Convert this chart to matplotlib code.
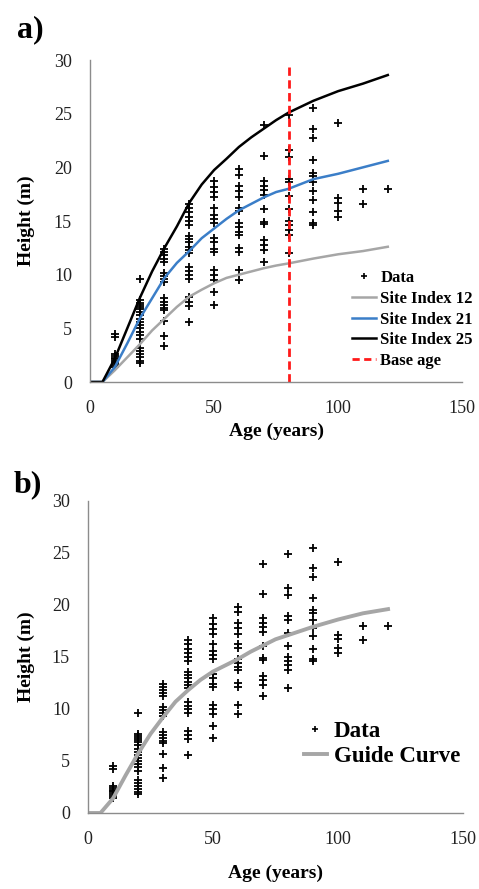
import matplotlib
matplotlib.use("Agg")
import matplotlib.pyplot as plt
from matplotlib.lines import Line2D

# ---- data ----
data_ages = [10]*10 + [20]*21 + [30]*17 + [40]*20 + [50]*17 + [60]*15 + [70]*13 + [80]*12 + [90]*12 + [100]*5 + [110]*2 + [120]*1
data_heights = (
    [4.5, 4.2, 2.6, 2.4, 2.2, 2.1, 2.0, 1.8, 1.6, 1.4] +
    [9.6, 7.6, 7.4, 7.2, 7.0, 6.8, 6.5, 6.2, 5.9, 5.6, 5.3, 5.0, 4.7, 4.4, 4.0, 3.2, 2.9, 2.6, 2.3, 2.0, 1.8] +
    [12.4, 12.1, 11.8, 11.5, 11.2, 10.2, 9.9, 9.6, 9.3, 7.8, 7.5, 7.2, 6.9, 6.7, 5.7, 4.3, 3.4] +
    [16.6, 16.2, 15.8, 15.4, 15.0, 14.6, 13.6, 13.3, 13.0, 12.6, 12.3, 12.0, 10.7, 10.3, 10.0, 9.6, 7.9, 7.5, 7.1, 5.6] +
    [18.7, 18.2, 17.7, 17.2, 16.2, 15.6, 15.2, 14.8, 13.4, 13.0, 12.4, 12.1, 10.4, 10.0, 9.5, 8.4, 7.2] +
    [19.8, 19.3, 18.3, 17.8, 17.2, 16.2, 15.9, 14.8, 14.4, 14.0, 13.7, 12.5, 12.1, 10.4, 9.5] +
    [23.9, 21.1, 18.7, 18.3, 17.9, 17.4, 16.1, 14.9, 14.7, 13.2, 12.8, 12.3, 11.2] +
    [24.9, 21.6, 21.0, 18.9, 18.6, 17.3, 16.1, 15.0, 14.6, 14.2, 13.7, 12.0] +
    [25.5, 23.6, 22.7, 20.7, 19.5, 19.2, 18.6, 17.8, 17.0, 15.8, 14.8, 14.6] +
    [24.1, 17.1, 16.7, 15.9, 15.4] +
    [18.0, 16.6] +
    [18.0]
)

curve_ages = [0, 5, 10, 15, 20, 25, 30, 35, 40, 45, 50, 55, 60, 65, 70, 75, 80, 90, 100, 110, 120]
si12 = [0, 0, 1.1, 2.3, 3.5, 4.8, 5.9, 7.0, 7.95, 8.6, 9.2, 9.7, 10.0, 10.3, 10.6, 10.85, 11.05, 11.5, 11.9, 12.2, 12.6]
si21 = [0, 0, 1.4, 3.6, 5.9, 7.8, 9.7, 11.1, 12.2, 13.4, 14.3, 15.2, 16.0, 16.6, 17.2, 17.7, 18.0, 18.9, 19.4, 20.0, 20.6]
si25 = [0, 0, 2.2, 5.0, 7.8, 10.3, 12.5, 14.5, 16.7, 18.4, 19.75, 20.8, 21.9, 22.8, 23.6, 24.4, 25.1, 26.2, 27.1, 27.8, 28.6]
guide = [0, 0, 1.4, 3.6, 5.7, 7.6, 9.2, 10.7, 11.8, 12.8, 13.6, 14.2, 14.8, 15.5, 16.1, 16.7, 17.1, 17.9, 18.6, 19.2, 19.6]
base_age = 80

xticks = [0, 50, 100, 150]
yticks = [0, 5, 10, 15, 20, 25, 30]

serif = ["Liberation Serif", "DejaVu Serif"]
plt.rcParams['font.family'] = serif

fig = plt.figure(figsize=(4.79, 8.89), dpi=100)
ax1 = fig.add_axes([0.188, 0.5703, 0.777, 0.3622])
ax2 = fig.add_axes([0.1837, 0.0855, 0.783, 0.351])

spine_col = "#8c8c8c"
for ax in (ax1, ax2):
    ax.set_xlim(0, 150)
    ax.set_ylim(0, 30)
    ax.set_xticks(xticks)
    ax.set_yticks(yticks)
    for s in ("top", "right"):
        ax.spines[s].set_visible(False)
    for s in ("left", "bottom"):
        ax.spines[s].set_color(spine_col)
        ax.spines[s].set_linewidth(1.0)
    ax.tick_params(length=0, pad=13, labelsize=13, colors="#222222")
    ax.set_xlabel("Age (years)", fontsize=14, fontweight="bold")
    ax.set_ylabel("Height (m)", fontsize=14, fontweight="bold")
    ax.xaxis.label.set_va("center")
    ax.yaxis.label.set_va("center")

# ---- panel a ----
ax1.plot(data_ages, data_heights, linestyle="none", marker="+", color="black",
         markersize=6, markeredgewidth=1.3, label="Data", clip_on=False)
ax1.plot(curve_ages, si12, color="#a6a6a6", lw=1.8, label="Site Index 12")
ax1.plot(curve_ages, si21, color="#3b7ec8", lw=1.8, label="Site Index 21")
ax1.plot(curve_ages, si25, color="black", lw=1.8, label="Site Index 25")
ax1.vlines(base_age, 0, 29.5, colors="#ff1a1a", linestyles=(0, (3.0, 1.6)), lw=2.0, label="Base age")
ax1.xaxis.set_label_coords(0.5, -0.152)
ax1.yaxis.set_label_coords(-0.172, 0.5)

h1, l1 = ax1.get_legend_handles_labels()
h1[4] = Line2D([], [], color="#ff1a1a", lw=2.0, linestyle=(0, (2.6, 1.6)))
h1[0] = Line2D([], [], linestyle="none", marker="+", color="black", markersize=5, markeredgewidth=1.2)
leg1 = ax1.legend(h1, l1, loc="center left", bbox_to_anchor=(0.704, 0.194), frameon=False,
                  prop={"family": serif, "weight": "bold", "size": 12},
                  handlelength=1.45, handletextpad=0.25, labelspacing=0.28, borderpad=0, borderaxespad=0)

# ---- panel b ----
ax2.plot(data_ages, data_heights, linestyle="none", marker="+", color="black",
         markersize=6, markeredgewidth=1.3, label="Data", clip_on=False)
ax2.plot(curve_ages, guide, color="#a6a6a6", lw=2.8, label="Guide Curve")
ax2.xaxis.set_label_coords(0.5, -0.192)
ax2.yaxis.set_label_coords(-0.165, 0.5)

h2, l2 = ax2.get_legend_handles_labels()
h2[0] = Line2D([], [], linestyle="none", marker="+", color="black", markersize=5, markeredgewidth=1.2)
ax2.legend(h2, l2, loc="center left", bbox_to_anchor=(0.576, 0.221), frameon=False,
           prop={"family": serif, "weight": "bold", "size": 16.5},
           handlelength=1.0, handletextpad=0.3, labelspacing=0.18, borderpad=0, borderaxespad=0)

fig.text(30 / 479, 1 - 30 / 889, "a)", fontsize=23, fontweight="bold", ha="center", va="center")
fig.text(28 / 479, 1 - 485 / 889, "b)", fontsize=23, fontweight="bold", ha="center", va="center")

fig.savefig("out.png", dpi=100)
